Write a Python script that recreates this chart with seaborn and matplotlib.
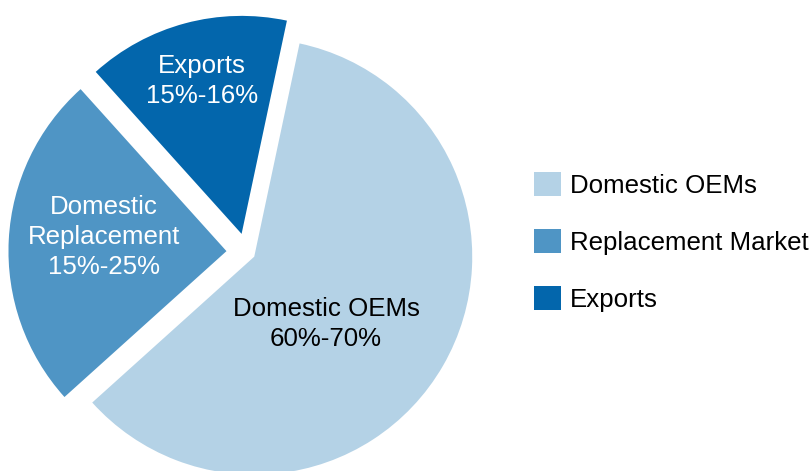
import matplotlib
matplotlib.use("Agg")
import matplotlib.pyplot as plt
from matplotlib.patches import Patch
import seaborn as sns
import numpy as np

# Market split of domestic tyre demand
segments = ["Domestic OEMs", "Replacement Market", "Exports"]
shares = [60, 25, 15]
slice_labels = ["Domestic OEMs\n60%-70%", "Domestic\nReplacement\n15%-25%", "Exports\n15%-16%"]
label_colors = ["black", "white", "white"]
colors = ["#B4D2E6", "#4F95C5", "#0366AC"]

sns.set_theme(style="white")
plt.rcParams["font.family"] = ["Liberation Sans", "DejaVu Sans"]
palette = sns.color_palette(colors)

fig = plt.figure(figsize=(8.11, 4.71), dpi=100)
ax = fig.add_axes([0, 0, 1, 1])

wedges, _ = ax.pie(
    shares,
    colors=palette,
    startangle=78,
    counterclock=False,
    explode=[0.041, 0.092, 0.087],
    radius=1.0,
    wedgeprops=dict(linewidth=0),
)

# pie-relative placement of the slice labels
label_xy = [(0.365, -0.329), (-0.654, 0.070), (-0.204, 0.785)]
for (x, y), txt, c in zip(label_xy, slice_labels, label_colors):
    ax.text(x, y, txt, ha="center", va="center", fontsize=18.6,
            color=c, linespacing=1.32)

scale = 218.0
cx, cy = 246.5, 252.2
ax.set_xlim(-cx / scale, (811 - cx) / scale)
ax.set_ylim(-(471 - cy) / scale, cy / scale)
ax.set_aspect("equal", adjustable="datalim")
ax.axis("off")

handles = [Patch(facecolor=col, edgecolor="none") for col in palette]
leg = ax.legend(
    handles, segments,
    loc="center left", bbox_to_anchor=(0.658, 0.486),
    bbox_transform=fig.transFigure,
    frameon=False, fontsize=18.6,
    handlelength=1.05, handleheight=1.05, handletextpad=0.35,
    labelspacing=1.2, borderpad=0, borderaxespad=0,
)
for t in leg.get_texts():
    t.set_color("black")

fig.savefig("out.png", dpi=100)
